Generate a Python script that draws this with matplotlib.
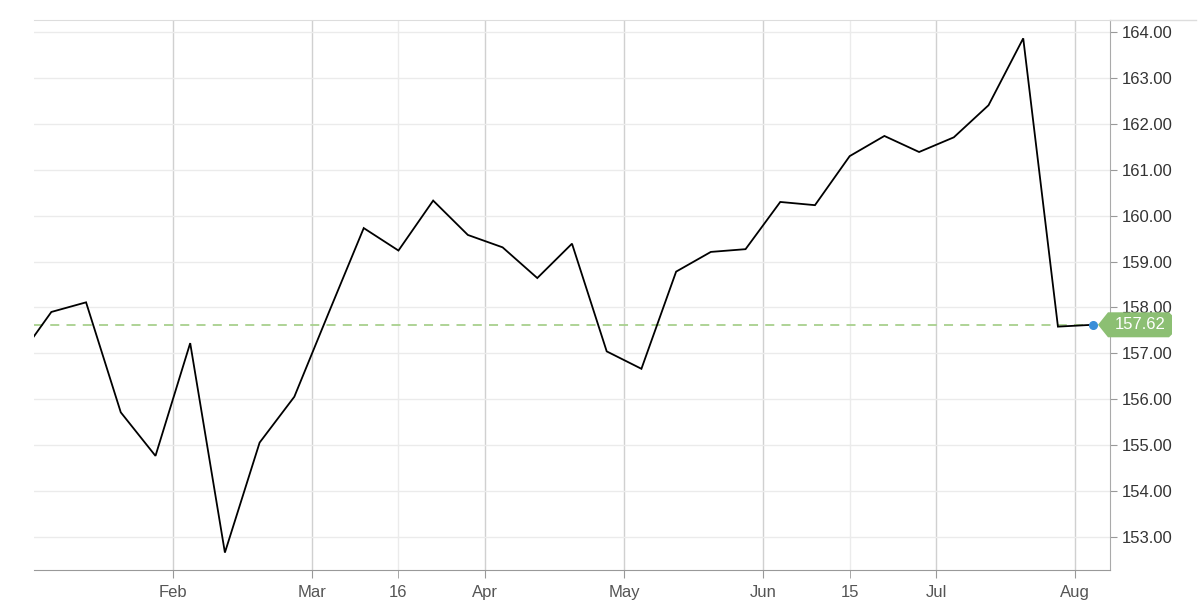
import matplotlib
matplotlib.use("Agg")
import numpy as np
import matplotlib.pyplot as plt
import matplotlib.transforms as mtransforms
from matplotlib.patches import Polygon
from matplotlib.lines import Line2D

plt.rcParams['font.family'] = ['Liberation Sans', 'DejaVu Sans']

# weekly closes, index -1 sits just outside the left edge
weeks = np.arange(-1, 31)
closes = [156.84, 157.90, 158.11, 155.71, 154.76, 157.22, 152.65, 155.05,
          156.05, 157.90, 159.73, 159.24, 160.33, 159.58, 159.31, 158.64,
          159.39, 157.04, 156.66, 158.78, 159.21, 159.27, 160.30, 160.23,
          161.30, 161.74, 161.39, 161.71, 162.41, 163.87, 157.58, 157.62]
last_price = 157.62

month_pos = [3.5, 7.5, 12.5, 16.5, 20.5, 25.5, 29.5]
month_labels = ['Feb', 'Mar', 'Apr', 'May', 'Jun', 'Jul', 'Aug']
mid_pos = [10, 23]
mid_labels = ['16', '15']
y_ticks = np.arange(153, 165)

fig = plt.figure(figsize=(12, 6.16), dpi=100)
ax = fig.add_axes([34 / 1200, 46 / 616, 1076 / 1200, 550 / 616])
ax.set_axisbelow(True)

ax.plot(weeks, closes, color='black', lw=1.3, zorder=3, solid_joinstyle='miter')
ax.set_xlim(-0.5, 30.5)
ax.set_ylim(152.27, 164.27)

# last price guide
ax.hlines(last_price, ax.get_xlim()[0], weeks[-1], colors='#a8d08d', lw=1.3,
          linestyles=(0, (5, 4)), zorder=2)
ax.plot(weeks[-1], closes[-1], 'o', color='#3a8ed8', ms=5.5, zorder=6)

# ticks
ax.yaxis.tick_right()
ax.set_yticks(y_ticks)
ax.set_yticklabels([f'{v:.2f}' for v in y_ticks])
ax.set_xticks(month_pos)
ax.set_xticklabels(month_labels)
ax.set_xticks(mid_pos, minor=True)
ax.set_xticklabels(mid_labels, minor=True)
ax.tick_params(axis='y', length=5, color='#999999', pad=3.5, labelsize=12,
               labelcolor='#333333')
ax.tick_params(axis='x', which='both', length=6, color='#999999', pad=4.5,
               labelsize=12, labelcolor='#555555')

ax.grid(axis='y', color='#ebebeb', lw=1)
ax.grid(axis='x', which='major', color='#d0d0d0', lw=1)
ax.grid(axis='x', which='minor', color='#ebebeb', lw=1)

ax.spines['left'].set_visible(False)
ax.spines['top'].set_color('#dddddd')
ax.spines['bottom'].set_color('#999999')
ax.spines['right'].set_color('#aaaaaa')
fig.add_artist(Line2D([1110 / 1200, 1196 / 1200], [596 / 616] * 2,
                      color='#dddddd', lw=1))

# price tag on the right axis (vertices in pixels from the anchor)
anchor = mtransforms.IdentityTransform() + mtransforms.ScaledTranslation(
    1.0, last_price, ax.get_yaxis_transform())
tag = [(-12, 0), (-2, 12.5), (59, 12.5), (62, 9.5), (62, -9.5), (59, -12.5),
       (-2, -12.5)]
ax.add_patch(Polygon(tag, closed=True, transform=anchor, facecolor='#8cbf73',
                     edgecolor='none', clip_on=False, zorder=5))
ax.annotate(f'{last_price:.2f}', xy=(1.0, last_price),
            xycoords=ax.get_yaxis_transform(), xytext=(21.5, 0),
            textcoords='offset points', ha='center', va='center',
            color='white', fontsize=12, zorder=7, annotation_clip=False)

fig.savefig('out.png', dpi=100)
